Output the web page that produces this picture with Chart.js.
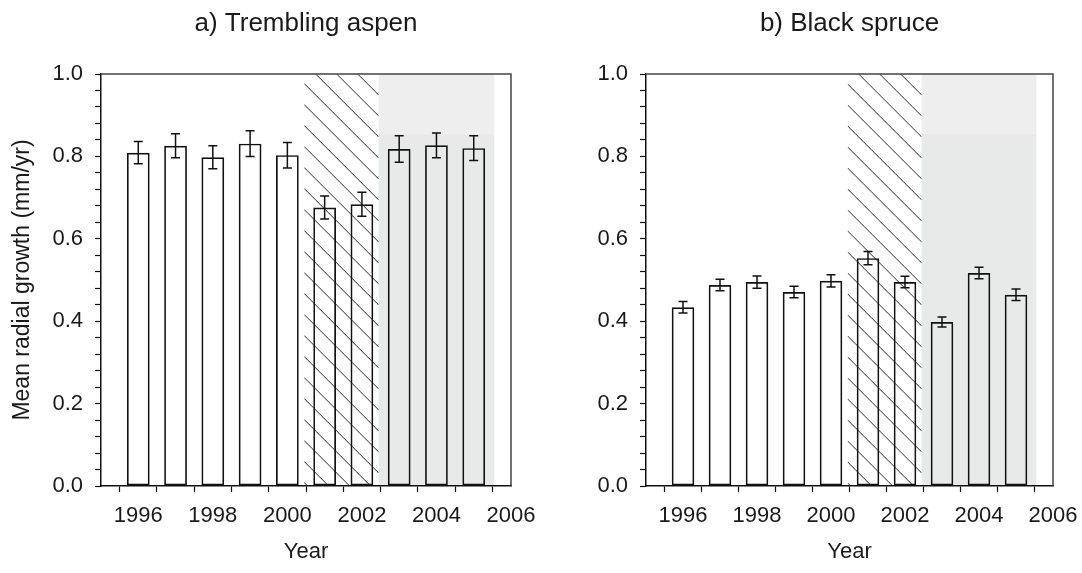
<!DOCTYPE html>
<html>
<head>
<meta charset="utf-8">
<title>Radial growth</title>
<script src="https://cdn.jsdelivr.net/npm/chart.js@4.4.1/dist/chart.umd.min.js"></script>
<style>
  body { margin: 0; background: #fff; }
  canvas { position: absolute; top: 0; }
  #aspen { left: 0; }
  #spruce { left: 541px; }
</style>
</head>
<body>
<canvas id="aspen" width="541" height="573"></canvas>
<canvas id="spruce" width="541" height="573"></canvas>
<script>
// Mean radial growth (mm/yr) and standard errors per year
const years = [1996, 1997, 1998, 1999, 2000, 2001, 2002, 2003, 2004, 2005];
const aspenMean = [0.809, 0.826, 0.798, 0.831, 0.803, 0.676, 0.684, 0.818, 0.827, 0.820];
const aspenSE = [0.027, 0.029, 0.028, 0.031, 0.031, 0.028, 0.029, 0.032, 0.030, 0.030];
const spruceMean = [0.434, 0.488, 0.495, 0.471, 0.498, 0.553, 0.495, 0.398, 0.517, 0.464];
const spruceSE = [0.014, 0.014, 0.015, 0.014, 0.015, 0.016, 0.014, 0.012, 0.014, 0.014];

const xLabels = [1996, 1998, 2000, 2002, 2004, 2006];
const yLabels = [0, 0.2, 0.4, 0.6, 0.8, 1.0];

// hatched (defoliation) and shaded (post-outbreak) periods, in years
const hatchPeriod = [2000.45, 2002.45];
const shadePeriod = [2002.45, 2005.55];

Chart.defaults.font.family = '"Liberation Sans", Arial, Helvetica, sans-serif';
Chart.defaults.color = '#1a1a1a';

const periods = {
  id: 'periods',
  beforeDraw(chart) {
    const { ctx, chartArea: a, scales: { x, y } } = chart;
    ctx.save();
    const s0 = x.getPixelForValue(shadePeriod[0]);
    const s1 = x.getPixelForValue(shadePeriod[1]);
    const split = y.getPixelForValue(0.855);
    ctx.fillStyle = '#e7eae9';
    ctx.fillRect(s0, split, s1 - s0, a.bottom - split);
    ctx.fillStyle = '#eeeeee';
    ctx.fillRect(s0, a.top, s1 - s0, split - a.top);

    const h0 = x.getPixelForValue(hatchPeriod[0]);
    const h1 = x.getPixelForValue(hatchPeriod[1]);
    const w = h1 - h0;
    ctx.beginPath();
    ctx.rect(h0, a.top, w, a.bottom - a.top);
    ctx.clip();
    ctx.strokeStyle = '#2a2a2a';
    ctx.lineWidth = 1;
    ctx.beginPath();
    for (let yy = a.top - w; yy < a.bottom; yy += 21) {
      ctx.moveTo(h0, yy);
      ctx.lineTo(h1, yy + w);
    }
    ctx.stroke();
    ctx.restore();
  },
  afterDatasetsDraw(chart, args, opts) {
    const { ctx, chartArea: a, scales: { x, y } } = chart;
    ctx.save();
    // error bars
    ctx.strokeStyle = '#111';
    ctx.lineWidth = 1.5;
    ctx.beginPath();
    opts.mean.forEach((m, i) => {
      const px = x.getPixelForValue(years[i]);
      const t = y.getPixelForValue(m + opts.se[i]);
      const b = y.getPixelForValue(m - opts.se[i]);
      ctx.moveTo(px, t); ctx.lineTo(px, b);
      ctx.moveTo(px - 4.5, t); ctx.lineTo(px + 4.5, t);
      ctx.moveTo(px - 4.5, b); ctx.lineTo(px + 4.5, b);
    });
    ctx.stroke();
    // top and right frame
    ctx.strokeStyle = '#444';
    ctx.lineWidth = 1.5;
    ctx.beginPath();
    ctx.moveTo(a.left, a.top);
    ctx.lineTo(a.right, a.top);
    ctx.lineTo(a.right, a.bottom);
    ctx.stroke();
    ctx.restore();
  }
};

function makeChart(id, title, mean, se, axisWidth, rightPad, yTitle) {
  return new Chart(document.getElementById(id), {
    type: 'bar',
    data: {
      datasets: [{
        data: years.map((yr, i) => ({ x: yr, y: mean[i] })),
        backgroundColor: 'rgba(0,0,0,0)',
        borderColor: '#111',
        borderWidth: 1.7,
        borderSkipped: false,
        barPercentage: 0.61,
        categoryPercentage: 1.0
      }]
    },
    options: {
      responsive: false,
      animation: false,
      devicePixelRatio: 1,
      layout: { padding: { left: 0, right: rightPad, top: 0, bottom: 0 } },
      plugins: {
        legend: { display: false },
        tooltip: { enabled: false },
        title: {
          display: true,
          text: title,
          fullSize: false,
          color: '#1a1a1a',
          font: { size: 26, weight: 'normal' },
          padding: { top: 8, bottom: 34.8 }
        },
        periods: { mean: mean, se: se }
      },
      scales: {
        x: {
          type: 'linear',
          min: 1995,
          max: 2006,
          offset: false,
          grid: { drawOnChartArea: false, tickLength: 6, tickColor: '#111', tickWidth: 1.2 },
          border: { color: '#111', width: 1.5 },
          ticks: {
            stepSize: 1,
            maxTicksLimit: 20,
            autoSkip: false,
            maxRotation: 0,
            padding: 11,
            font: { size: 22 },
            callback: v => xLabels.includes(v) ? String(v) : ''
          },
          title: { display: true, text: 'Year', font: { size: 22 }, padding: { top: 0, bottom: 8 } },
          afterFit: s => { s.height = 87; s.paddingLeft = 0; s.paddingRight = 0; }
        },
        y: {
          min: 0,
          max: 1,
          grid: { drawOnChartArea: false, tickLength: 6, tickColor: '#111', tickWidth: 1.2 },
          border: { color: '#111', width: 1.5 },
          ticks: {
            stepSize: 0.04,
            maxTicksLimit: 30,
            autoSkip: false,
            padding: 12,
            font: { size: 22 },
            callback: v => yLabels.some(l => Math.abs(l - v) < 1e-6) ? v.toFixed(1) : ''
          },
          title: {
            display: !!yTitle,
            text: yTitle || '',
            font: { size: 23 },
            padding: { top: 9, bottom: 0 }
          },
          afterFit: s => { s.width = axisWidth; s.paddingTop = 0; s.paddingBottom = 0; }
        }
      }
    },
    plugins: [periods]
  });
}

makeChart('aspen', 'a) Trembling aspen', aspenMean, aspenSE, 101, 30, 'Mean radial growth (mm/yr)');
makeChart('spruce', 'b) Black spruce', spruceMean, spruceSE, 105, 29, null);
</script>
</body>
</html>
